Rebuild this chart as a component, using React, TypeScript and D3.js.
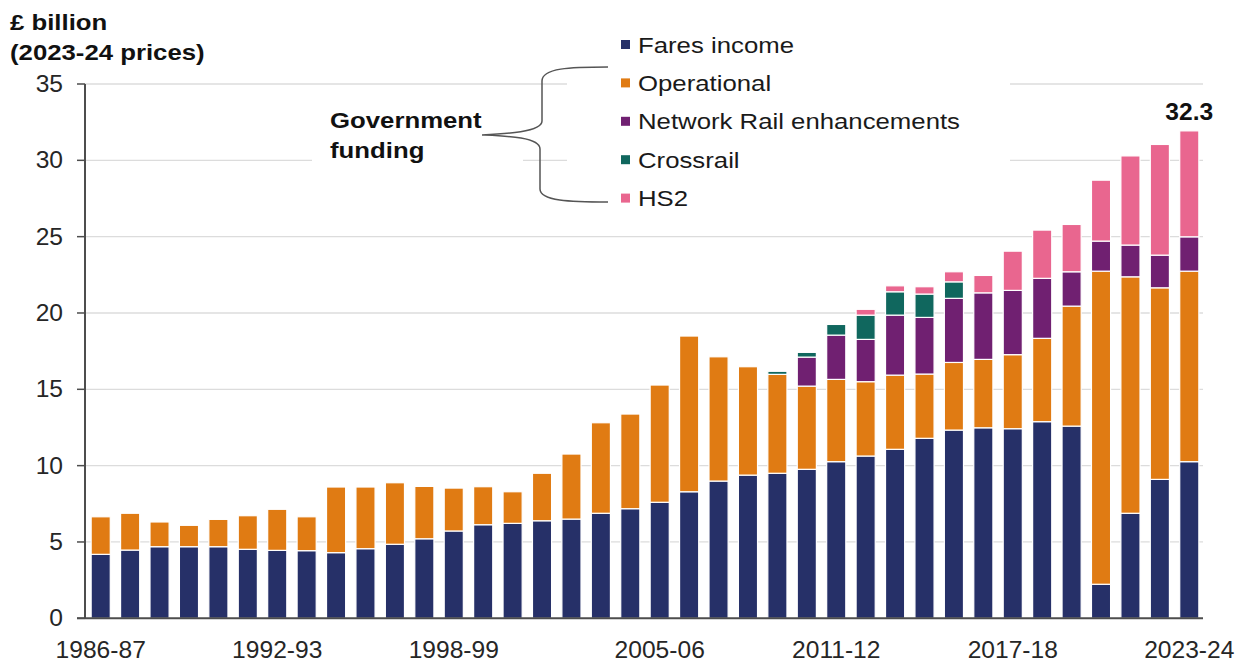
import React from "react";
import * as d3 from "d3";

const years = [
  "1986-87","1987-88","1988-89","1989-90","1990-91","1991-92","1992-93","1993-94",
  "1994-95","1995-96","1996-97","1997-98","1998-99","1999-00","2000-01","2001-02",
  "2002-03","2003-04","2004-05","2005-06","2006-07","2007-08","2008-09","2009-10",
  "2010-11","2011-12","2012-13","2013-14","2014-15","2015-16","2016-17","2017-18",
  "2018-19","2019-20","2020-21","2021-22","2022-23","2023-24",
];

const faresIncome = [
  4.19, 4.47, 4.69, 4.69, 4.69, 4.52, 4.45, 4.43,
  4.30, 4.56, 4.85, 5.21, 5.72, 6.13, 6.22, 6.39,
  6.50, 6.88, 7.18, 7.60, 8.29, 8.99, 9.38, 9.50,
  9.76, 10.26, 10.63, 11.07, 11.79, 12.33, 12.48, 12.42,
  12.88, 12.59, 2.23, 6.88, 9.10, 10.26,
];

const operational = [
  2.46, 2.41, 1.62, 1.40, 1.79, 2.20, 2.69, 2.22,
  4.30, 4.04, 4.03, 3.43, 2.81, 2.49, 2.07, 3.11,
  4.26, 5.93, 6.20, 7.68, 10.20, 8.14, 7.10, 6.48,
  5.45, 5.39, 4.87, 4.86, 4.21, 4.43, 4.48, 4.85,
  5.46, 7.86, 20.51, 15.49, 12.55, 12.48,
];

const networkRail = [
  0, 0, 0, 0, 0, 0, 0, 0,
  0, 0, 0, 0, 0, 0, 0, 0,
  0, 0, 0, 0, 0, 0, 0, 0,
  1.90, 2.90, 2.77, 3.93, 3.71, 4.20, 4.36, 4.21,
  3.93, 2.25, 1.97, 2.08, 2.14, 2.25,
];

const crossrail = [
  0, 0, 0, 0, 0, 0, 0, 0,
  0, 0, 0, 0, 0, 0, 0, 0,
  0, 0, 0, 0, 0, 0, 0, 0.2,
  0.31, 0.70, 1.59, 1.53, 1.53, 1.08, 0, 0,
  0, 0, 0, 0, 0, 0,
];

const hs2 = [
  0, 0, 0, 0, 0, 0, 0, 0,
  0, 0, 0, 0, 0, 0, 0, 0,
  0, 0, 0, 0, 0, 0, 0, 0,
  0, 0, 0.38, 0.39, 0.48, 0.66, 1.14, 2.57,
  3.16, 3.10, 3.99, 5.84, 7.25, 6.94,
];

const seriesNames = ["Fares income", "Operational", "Network Rail enhancements", "Crossrail", "HS2"];
const seriesColors = ["#263068", "#e07b13", "#702071", "#10675e", "#e9668f"];
const yTicks = [0, 5, 10, 15, 20, 25, 30, 35];
const xLabelYears = ["1986-87", "1992-93", "1998-99", "2005-06", "2011-12", "2017-18", "2023-24"];
const totalLabel = "32.3";

const W = 1245;
const H = 664;
const FONT = "'Liberation Sans', Arial, Helvetica, sans-serif";
const SX = 1.1;

function T(props: {
  x: number; y: number; anchor?: string; size?: number; weight?: string | number;
  fill?: string; children: React.ReactNode; sx?: number;
}) {
  const { x, y, anchor = "start", size = 23, weight = "normal", fill = "#1a1a1a", children, sx = SX } = props;
  return (
    <text
      transform={`translate(${x},${y}) scale(${sx},1)`}
      textAnchor={anchor}
      fontSize={size}
      fontWeight={weight}
      fontFamily={FONT}
      fill={fill}
    >
      {children}
    </text>
  );
}

export default function App() {
  const x = d3.scaleBand<string>().domain(years).range([86, 1204]).paddingInner(0.35).paddingOuter(0.175);
  const y = d3.scaleLinear().domain([0, 35]).range([618.3, 84]);
  const axisLeft = 85;
  const plotRight = 1203;

  const table = years.map((yr, i) => ({
    year: yr,
    s0: faresIncome[i],
    s1: operational[i],
    s2: networkRail[i],
    s3: crossrail[i],
    s4: hs2[i],
  }));
  const keys = ["s0", "s1", "s2", "s3", "s4"];
  const stacked = d3.stack<any>().keys(keys)(table);

  const lastYear = years[years.length - 1];
  const lastTop = stacked[stacked.length - 1][years.length - 1][1];

  const legendY0 = 44.5;
  const legendStep = 38.4;

  const bracePath = d3.path();
  bracePath.moveTo(608, 67);
  bracePath.bezierCurveTo(570, 67, 542, 68, 542, 81);
  bracePath.lineTo(542, 121);
  bracePath.bezierCurveTo(542, 132, 505, 134, 482, 135);
  bracePath.bezierCurveTo(505, 136, 540, 137, 540, 149);
  bracePath.lineTo(540, 189);
  bracePath.bezierCurveTo(540, 201, 570, 202, 608, 202);

  return (
    <svg
      width={W}
      height={H}
      viewBox={`0 0 ${W} ${H}`}
      style={{ position: "absolute", left: 0, top: 0, background: "#fff", display: "block" }}
    >
      <rect x={0} y={0} width={W} height={H} fill="#fff" />

      {/* gridlines */}
      {yTicks.filter((t) => t > 0).map((t) => (
        <line key={t} x1={axisLeft} x2={plotRight} y1={y(t)} y2={y(t)} stroke="#dcdcdc" strokeWidth={1.3} />
      ))}

      {/* bars */}
      {stacked.map((layer, si) => (
        <g key={si} fill={seriesColors[si]}>
          {layer.map((d: any, i: number) => {
            const h = y(d[0]) - y(d[1]);
            if (h <= 0) return null;
            return (
              <rect
                key={i}
                x={x(years[i])}
                y={y(d[1])}
                width={x.bandwidth()}
                height={h}
                stroke="#fff"
                strokeWidth={1.2}
              />
            );
          })}
        </g>
      ))}

      {/* axes */}
      <line x1={axisLeft} x2={axisLeft} y1={y(35)} y2={y(0)} stroke="#4d4d4d" strokeWidth={2} />
      <line x1={77} x2={plotRight} y1={y(0)} y2={y(0)} stroke="#4d4d4d" strokeWidth={2} />
      {yTicks.map((t) => (
        <g key={t}>
          <line x1={77} x2={axisLeft} y1={y(t)} y2={y(t)} stroke="#4d4d4d" strokeWidth={1.5} />
          <T x={63} y={y(t) + 8} anchor="end" fill="#262626" sx={1.07}>{t}</T>
        </g>
      ))}
      {xLabelYears.map((yr) => (
        <T key={yr} x={(x(yr) as number) + x.bandwidth() / 2} y={658} anchor="middle" fill="#262626" sx={1.07}>
          {yr}
        </T>
      ))}

      {/* y-axis title */}
      <T x={10} y={30} weight="bold" fill="#111" sx={1.12}>£ billion</T>
      <T x={10} y={60} weight="bold" fill="#111" sx={1.12}>(2023-24 prices)</T>

      {/* total label */}
      <T x={(x(lastYear) as number) + x.bandwidth() / 2} y={y(lastTop) - 11} anchor="middle" weight="bold" fill="#111" sx={1.07}>
        {totalLabel}
      </T>

      {/* annotation boxes */}
      <rect x={312} y={100} width={211} height={70} fill="#fff" />
      <rect x={567} y={25} width={443} height={192} fill="#fff" />

      <T x={330} y={128} weight="bold" fill="#111" sx={1.12}>Government</T>
      <T x={330} y={158} weight="bold" fill="#111" sx={1.12}>funding</T>
      <path d={bracePath.toString()} fill="none" stroke="#555" strokeWidth={1.5} />

      {/* legend */}
      {seriesNames.map((name, i) => {
        const cy = legendY0 + legendStep * i;
        return (
          <g key={name}>
            <rect x={621} y={cy - 4.5} width={9} height={9} fill={seriesColors[i]} />
            <T x={638} y={cy + 8} fill="#1a1a1a" sx={1.12}>{name}</T>
          </g>
        );
      })}
    </svg>
  );
}
